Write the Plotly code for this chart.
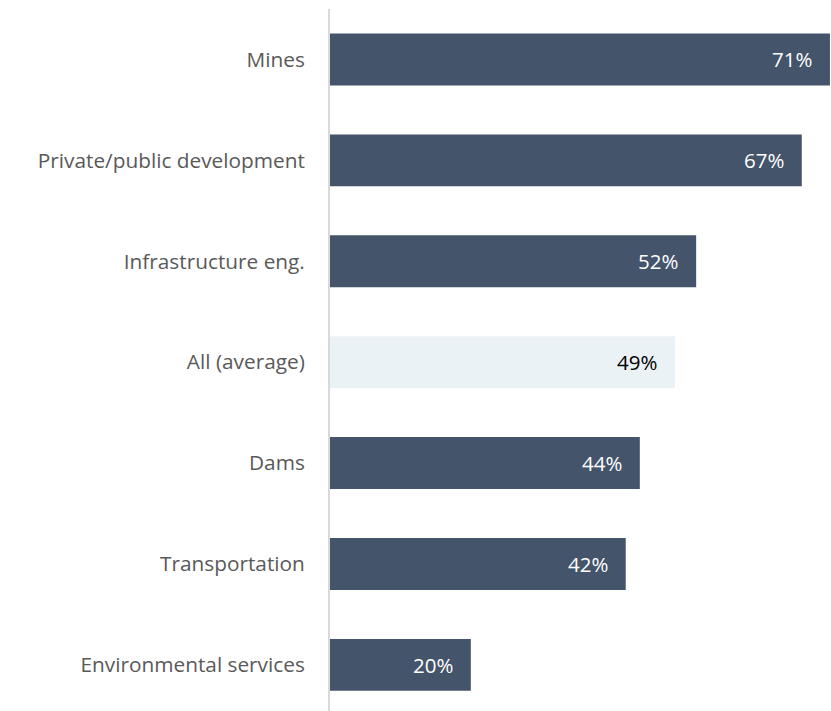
import plotly.graph_objects as go

# Share by sector, listed bottom to top
categories = ["Environmental services", "Transportation", "Dams", "All (average)",
              "Infrastructure eng.", "Private/public development", "Mines"]
values = [20, 42, 44, 49, 52, 67, 71]

DARK = "#44546A"
LIGHT = "#EBF2F6"
colors = [LIGHT if c == "All (average)" else DARK for c in categories]
text_colors = ["#000000" if c == "All (average)" else "#FFFFFF" for c in categories]

fig = go.Figure(go.Bar(
    y=categories,
    x=values,
    orientation="h",
    marker=dict(color=colors, line=dict(width=0)),
    hoverinfo="skip",
))

for cat, val, tc in zip(categories, values, text_colors):
    fig.add_annotation(
        x=val, y=cat, text=f"{val}%", showarrow=False,
        xanchor="right", yanchor="middle", xshift=-16,
        font=dict(family="Open Sans", size=20.5, color=tc),
    )

fig.update_layout(
    width=831, height=711,
    margin=dict(l=330, r=0, t=9, b=0),
    paper_bgcolor="white", plot_bgcolor="white",
    bargap=0.485,
    showlegend=False,
    font=dict(family="Open Sans", size=20.8, color="#595959"),
)
fig.update_xaxes(range=[0, 71.15], visible=False, fixedrange=True)
fig.update_yaxes(
    range=[-0.457, 6.5],
    showline=True, linecolor="#D9D9D9", linewidth=2,
    showgrid=False, ticks="", ticklabelstandoff=19,
    tickfont=dict(family="Open Sans", size=20.8, color="#595959"),
    fixedrange=True,
)

fig.write_html("out.html")
